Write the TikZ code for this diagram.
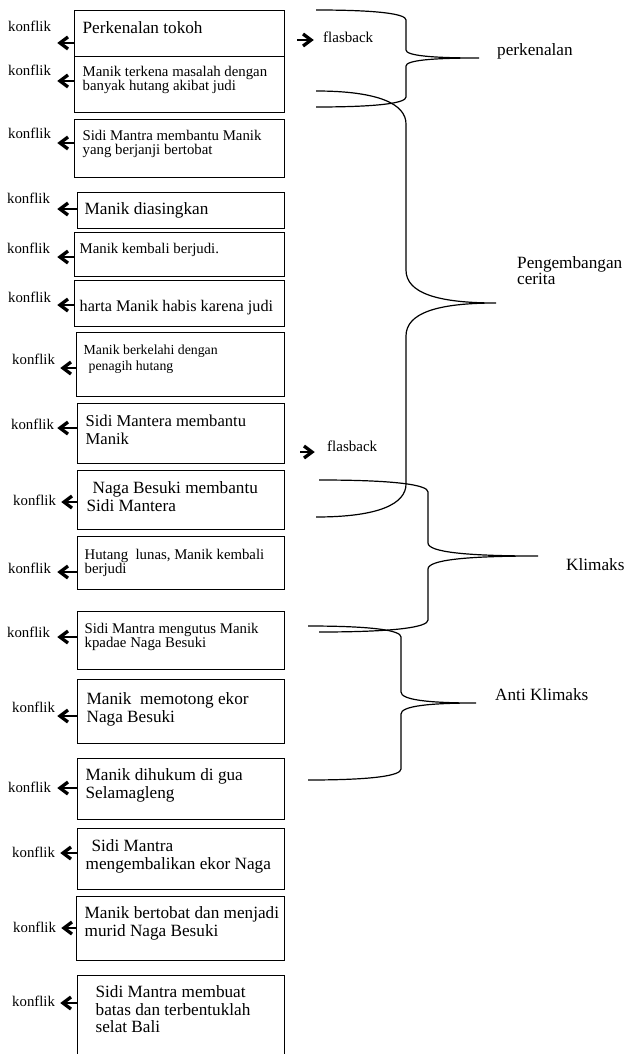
\documentclass[tikz,border=0pt]{standalone}
\usepackage{fontspec}
\setmainfont{Liberation Serif}
\usetikzlibrary{arrows.meta}
\newcommand\bigfs{\fontsize{17.2pt}{17.5pt}\selectfont}
\newcommand\smlfs{\fontsize{14.8pt}{14pt}\selectfont}
% event text: width, height, left pad, top pad, text
\newcommand\evt[5]{\parbox[b][#2pt][t]{#1pt}{\vspace*{#4pt}\raggedright\leftskip=#3pt\relax\rule{0pt}{12pt}#5}}
% curly brace: x0, spine x, tip x, top y, tip y, bottom y, end bend, tip bend
\newcommand\storybrace[8]{%
  \draw[brc] (#1,#4) .. controls ({#2-0.3*(#2-#1)},#4) and (#2,{#4+0.4*#7}) .. (#2,{#4+#7})
    -- (#2,{#5-#8}) .. controls (#2,{#5-0.3*#8}) and ({#2+0.35*(#3-#2)},#5) .. (#3,#5)
    .. controls ({#2+0.35*(#3-#2)},#5) and (#2,{#5+0.3*#8}) .. (#2,{#5+#8})
    -- (#2,{#6-#7}) .. controls (#2,{#6-0.4*#7}) and ({#2-0.3*(#2-#1)},#6) .. (#1,#6);}
% bold chevron arrow from a box to a tip coordinate (#3 = +1 left, -1 right)
\newcommand\konarrow[3]{\draw[kar] (#1) -- (#2);
  \draw[kchev] (#2) ++({#3*8},-6) -- (#2) -- ++({#3*8},6);}

\begin{document}
\begin{tikzpicture}[x=1pt, y=-1pt,
  ev/.style={draw, line width=1.3pt, anchor=north west, inner sep=0pt, font=\smlfs},
  kon/.style={anchor=base west, inner sep=0pt, font=\smlfs},
  lbl/.style={anchor=base west, inner sep=0pt, font=\bigfs, align=left},
  kar/.style={line width=2.4pt},
  kchev/.style={line width=3.3pt, line join=miter},
  brc/.style={line width=1.2pt},
]
\useasboundingbox (0,0) rectangle (625,1054);

% events
\node[ev, font=\bigfs] (b1) at (74,10)  {\evt{210}{46}{8}{11}{Perkenalan tokoh}};
\node[ev] (b2) at (74,56)  {\evt{210}{56}{8}{8}{Manik terkena masalah dengan\\banyak hutang akibat judi}};
\node[ev] (b3) at (74,119) {\evt{210}{58}{8}{9}{Sidi Mantra membantu Manik\\yang berjanji bertobat}};
\node[ev, font=\bigfs] (b4) at (77,192) {\evt{207}{36}{7}{10}{Manik diasingkan}};
\node[ev] (b5) at (74,232) {\evt{210}{44}{5}{9}{Manik kembali berjudi.}};
\node[ev, font=\fontsize{16.2pt}{17pt}\selectfont] (b6) at (74,280) {\evt{210}{46}{5}{19}{harta Manik habis karena judi}};
\node[ev, font=\fontsize{13.8pt}{16pt}\selectfont] (b7) at (76,332) {\evt{208}{64}{7}{10}{Manik berkelahi dengan\\\hspace*{5pt}penagih hutang}};
\node[ev, font=\fontsize{16.6pt}{17.5pt}\selectfont] (b8) at (77,403) {\evt{207}{60}{8}{11}{Sidi Mantera membantu\\Manik}};
\node[ev, font=\bigfs] (b9) at (77,470) {\evt{207}{59}{9}{11}{\hspace*{6pt}Naga Besuki membantu\\Sidi Mantera}};
\node[ev] (b10) at (77,536) {\evt{207}{53}{7}{11}{Hutang\ \ lunas, Manik kembali\\berjudi}};
\node[ev] (b11) at (77,611) {\evt{207}{58}{7}{10}{Sidi Mantra mengutus Manik\\kpadae Naga Besuki}};
\node[ev, font=\bigfs] (b12) at (77,679) {\evt{207}{64}{9}{13}{Manik\ \ memotong ekor\\Naga Besuki}};
\node[ev, font=\bigfs] (b13) at (77,758) {\evt{207}{61}{8}{10}{Manik dihukum di gua\\Selamagleng}};
\node[ev, font=\bigfs] (b14) at (77,828) {\evt{207}{61}{8}{11}{\hspace*{6pt}Sidi Mantra\\mengembalikan ekor Naga}};
\node[ev, font=\bigfs] (b15) at (76,896) {\evt{208}{64}{8}{10}{Manik bertobat dan menjadi\\murid Naga Besuki}};
\node[ev, font=\bigfs] (b16) at (77,975) {\evt{207}{95}{18}{10}{Sidi Mantra membuat\\batas dan terbentuklah\\selat Bali}};

% konflik
\node[kon] (k1)  at (8,32)    {konflik}; \coordinate (a1)  at (60,43);   \konarrow{b1.west|-a1}{a1}{1}
\node[kon] (k2)  at (8,76)    {konflik}; \coordinate (a2)  at (60,81);   \konarrow{b2.west|-a2}{a2}{1}
\node[kon] (k3)  at (8,139)   {konflik}; \coordinate (a3)  at (60,143);  \konarrow{b3.west|-a3}{a3}{1}
\node[kon] (k4)  at (7,203)   {konflik}; \coordinate (a4)  at (60,209);  \konarrow{b4.west|-a4}{a4}{1}
\node[kon] (k5)  at (7,253)   {konflik}; \coordinate (a5)  at (60,257);  \konarrow{b5.west|-a5}{a5}{1}
\node[kon] (k6)  at (8,302)   {konflik}; \coordinate (a6)  at (60,305);  \konarrow{b6.west|-a6}{a6}{1}
\node[kon] (k7)  at (12,364)  {konflik}; \coordinate (a7)  at (63,368);  \konarrow{b7.west|-a7}{a7}{1}
\node[kon] (k8)  at (11,429)  {konflik}; \coordinate (a8)  at (60,428);  \konarrow{b8.west|-a8}{a8}{1}
\node[kon] (k9)  at (13,505)  {konflik}; \coordinate (a9)  at (64,502);  \konarrow{b9.west|-a9}{a9}{1}
\node[kon] (k10) at (8,573)   {konflik}; \coordinate (a10) at (60,572);  \konarrow{b10.west|-a10}{a10}{1}
\node[kon] (k11) at (7,637)   {konflik}; \coordinate (a11) at (60,637);  \konarrow{b11.west|-a11}{a11}{1}
\node[kon] (k12) at (12,712)  {konflik}; \coordinate (a12) at (60,716);  \konarrow{b12.west|-a12}{a12}{1}
\node[kon] (k13) at (8,792)   {konflik}; \coordinate (a13) at (60,788);  \konarrow{b13.west|-a13}{a13}{1}
\node[kon] (k14) at (12,857)  {konflik}; \coordinate (a14) at (63,853);  \konarrow{b14.west|-a14}{a14}{1}
\node[kon] (k15) at (13,932)  {konflik}; \coordinate (a15) at (64,928);  \konarrow{b15.west|-a15}{a15}{1}
\node[kon] (k16) at (12,1006) {konflik}; \coordinate (a16) at (63,1003); \konarrow{b16.west|-a16}{a16}{1}

% flashbacks
\node[kon, font=\fontsize{15pt}{16pt}\selectfont] (fb1) at (323,43) {flasback};
\coordinate (f1) at (297,40); \konarrow{f1}{[xshift=-12pt]f1-|fb1.west}{-1}
\node[kon, font=\fontsize{15pt}{16pt}\selectfont] (fb2) at (327,451) {flasback};
\coordinate (f2) at (300,452); \konarrow{f2}{[xshift=-15pt]f2-|fb2.west}{-1}

% braces and stages
\storybrace{316}{406}{479}{10}{58}{107}{10}{8}
\storybrace{316}{406}{496}{91}{303}{517}{33}{33}
\storybrace{319}{428}{538}{480}{556}{632}{12}{13}
\storybrace{308}{401}{476}{626}{703}{780}{11}{11}
\node[lbl] (perk) at (497,56) {perkenalan};
\node[lbl, anchor=north west, font=\fontsize{17.2pt}{16pt}\selectfont] (peng) at (517,256.3) {Pengembangan\\cerita};
\node[lbl] (klim) at (566,570) {Klimaks};
\node[lbl] (anti) at (495,700) {Anti Klimaks};
\end{tikzpicture}
\end{document}
